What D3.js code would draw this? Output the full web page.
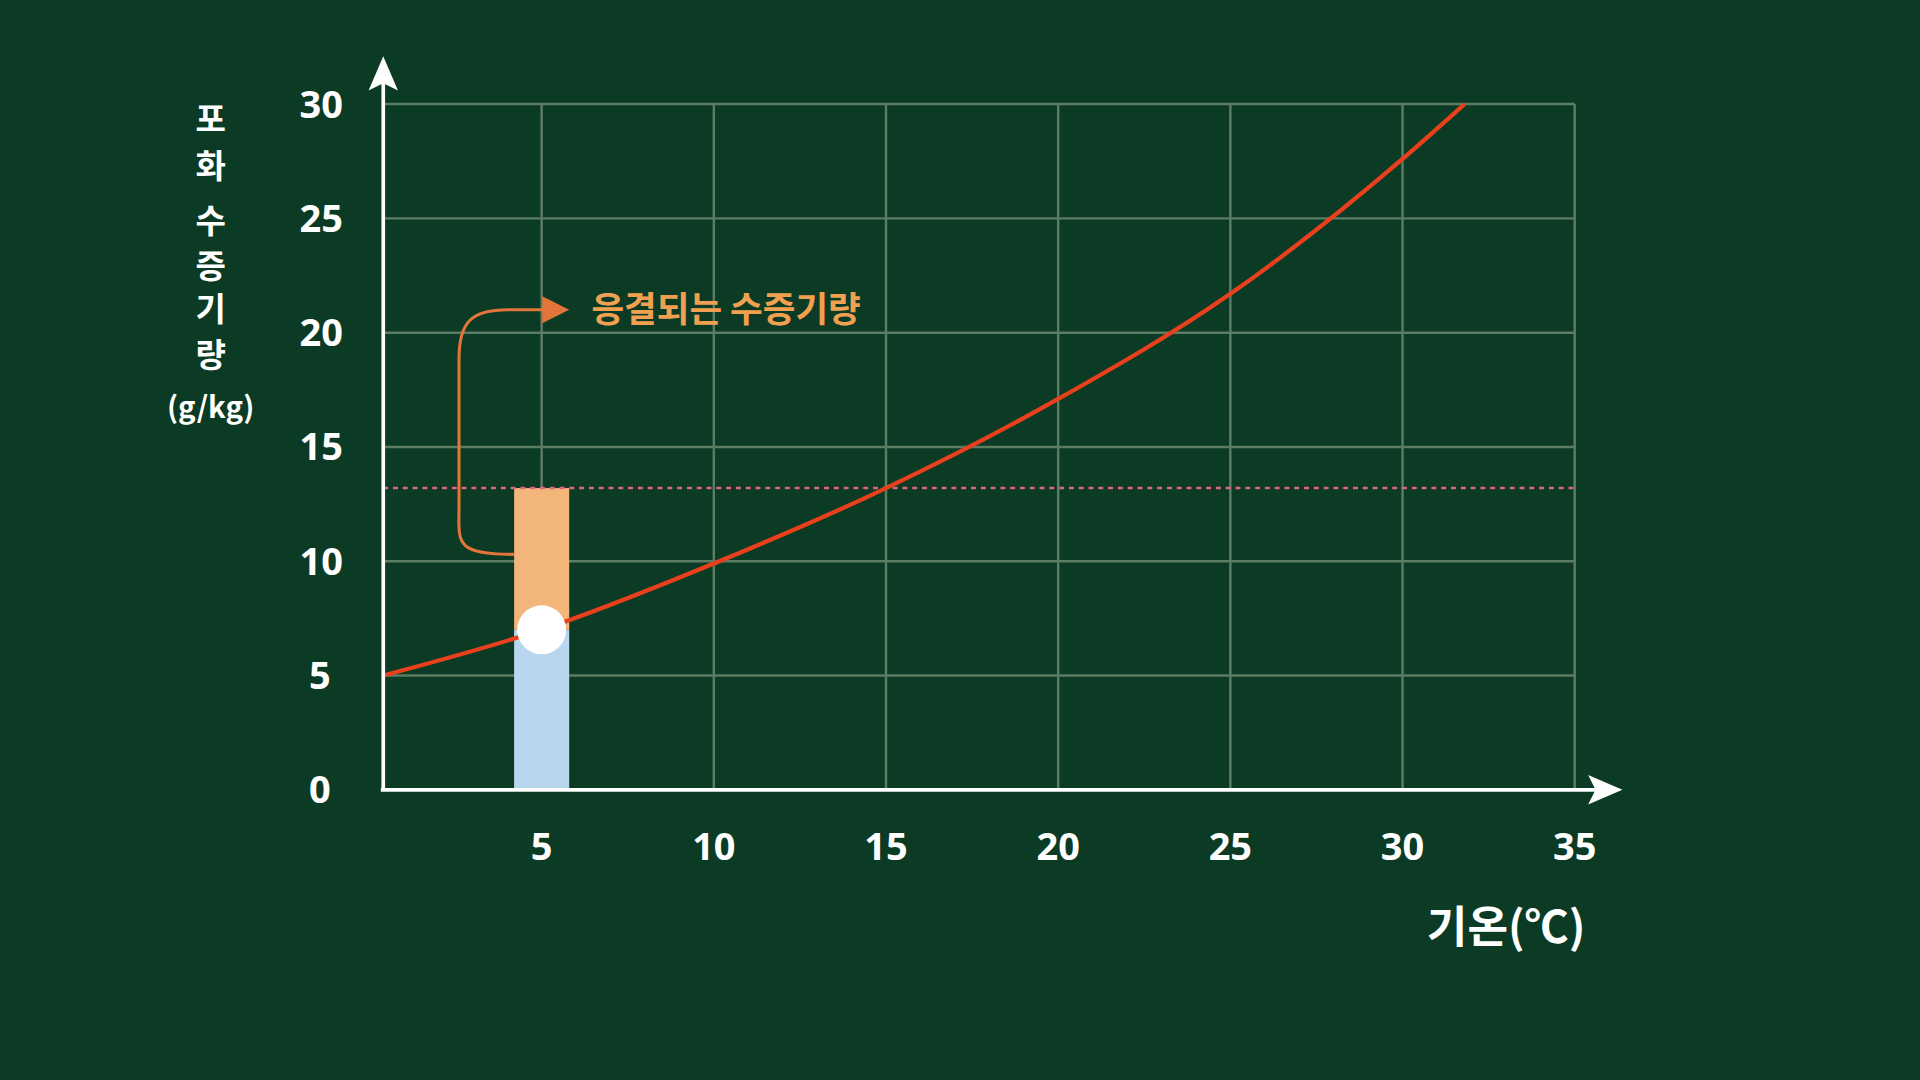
<!DOCTYPE html>
<html><head><meta charset="utf-8">
<script src="https://cdn.jsdelivr.net/npm/d3@7"></script>
<style>html,body{margin:0;padding:0;background:#0b3a25;overflow:hidden}</style>
</head><body>
<svg id="c" width="1920" height="1080"></svg>
<script>
const xTicks=[5,10,15,20,25,30,35];
const yTicks=[0,5,10,15,20,25,30];
const curveT=[0.4,5,10,15,20,25,30,31.8];
const curveV=[5,7.0,9.9,13.2,17.1,21.7,27.6,30];
const barT=[4.2,5.8];
const barBlue=7.0, barTop=13.2, dewLine=13.2, arrowStart=10.3, arrowEnd=21;
const yLabelChars=["포","화","수","증","기","량"];

const svg=d3.select("#c");
svg.append("rect").attr("width",1920).attr("height",1080).attr("fill","#0b3a25");
const g=svg.append("g").attr("transform",`scale(${1920/1568})`);
const x=d3.scaleLinear().domain([0.4,35]).range([313,1286]);
const y=d3.scaleLinear().domain([0,30]).range([645,85]);
const grid="#5d7d62";
xTicks.forEach(t=>g.append("line").attr("x1",x(t)).attr("x2",x(t)).attr("y1",y(30)).attr("y2",y(0)).attr("stroke",grid).attr("stroke-width",2));
yTicks.slice(1).forEach(t=>g.append("line").attr("x1",x(0.4)).attr("x2",x(35)).attr("y1",y(t)).attr("y2",y(t)).attr("stroke",grid).attr("stroke-width",2));
g.append("rect").attr("x",x(barT[0])).attr("width",x(barT[1])-x(barT[0])).attr("y",y(barBlue)).attr("height",y(0)-y(barBlue)).attr("fill","#b8d6ee");
g.append("rect").attr("x",x(barT[0])).attr("width",x(barT[1])-x(barT[0])).attr("y",y(barTop)).attr("height",y(barBlue)-y(barTop)).attr("fill","#f2b57a");
g.append("line").attr("x1",x(0.4)).attr("x2",x(35)).attr("y1",y(dewLine)).attr("y2",y(dewLine)).attr("stroke","#e0647e").attr("stroke-width",2).attr("stroke-dasharray","4,4");
const pts=curveT.map((t,i)=>[t,curveV[i]]);
g.append("path").attr("d",d3.line().x(d=>x(d[0])).y(d=>y(d[1])).curve(d3.curveMonotoneX)(pts)).attr("fill","none").attr("stroke","#e8401c").attr("stroke-width",3.5);
g.append("circle").attr("cx",x(5)).attr("cy",y(barBlue)).attr("r",20).attr("fill","#fff");
const ax=x(2.6), y1=y(arrowStart), y2=y(arrowEnd);
const tip=x(5.8);
g.append("path").attr("d",`M${x(barT[0])},${y1} C${ax-5},${y1} ${ax},${y1-10} ${ax},${y1-40} L${ax},${y2+40} C${ax},${y2+10} ${ax+10},${y2} ${ax+40},${y2} L${tip-10},${y2}`).attr("fill","none").attr("stroke","#e2763a").attr("stroke-width",2.5);
g.append("path").attr("d",`M${tip-22},${y2-11} L${tip},${y2} L${tip-22},${y2+11} Z`).attr("fill","#e2763a");
g.append("text").attr("x",483).attr("y",y2+10).attr("fill","#f0a050").attr("font-family","Noto Sans CJK KR").attr("font-weight",700).attr("font-size",29).text("응결되는 수증기량");
g.append("line").attr("x1",313).attr("x2",313).attr("y1",645).attr("y2",60).attr("stroke","#fff").attr("stroke-width",3);
g.append("path").attr("d","M313,46 L325,74 L313,68 L301,74 Z").attr("fill","#fff");
g.append("line").attr("x1",311).attr("x2",1310).attr("y1",645).attr("y2",645).attr("stroke","#fff").attr("stroke-width",3);
g.append("path").attr("d","M1325,645 L1297,633 L1303,645 L1297,657 Z").attr("fill","#fff");
const tf="Noto Sans";
xTicks.forEach(t=>g.append("text").attr("x",x(t)).attr("y",702).attr("text-anchor","middle").attr("fill","#fff").attr("font-family",tf).attr("font-weight",700).attr("font-size",31).text(t));
yTicks.forEach(t=>g.append("text").attr("x",t<10?270:280).attr("y",y(t)+11).attr("text-anchor","end").attr("fill","#fff").attr("font-family",tf).attr("font-weight",700).attr("font-size",31).text(t));
const ys=[97,135,180,217,252,290];
yLabelChars.forEach((c,i)=>g.append("text").attr("x",172).attr("y",ys[i]+10).attr("text-anchor","middle").attr("fill","#fff").attr("font-family","Noto Sans CJK KR").attr("font-weight",700).attr("font-size",27).text(c));
g.append("text").attr("x",172).attr("y",341).attr("text-anchor","middle").attr("fill","#fff").attr("font-family","Noto Sans CJK KR").attr("font-weight",700).attr("font-size",24).text("(g/kg)");
g.append("text").attr("x",1230).attr("y",770).attr("text-anchor","middle").attr("fill","#fff").attr("font-family","Noto Sans CJK KR").attr("font-weight",700).attr("font-size",36).text("기온(℃)");
</script></body></html>
